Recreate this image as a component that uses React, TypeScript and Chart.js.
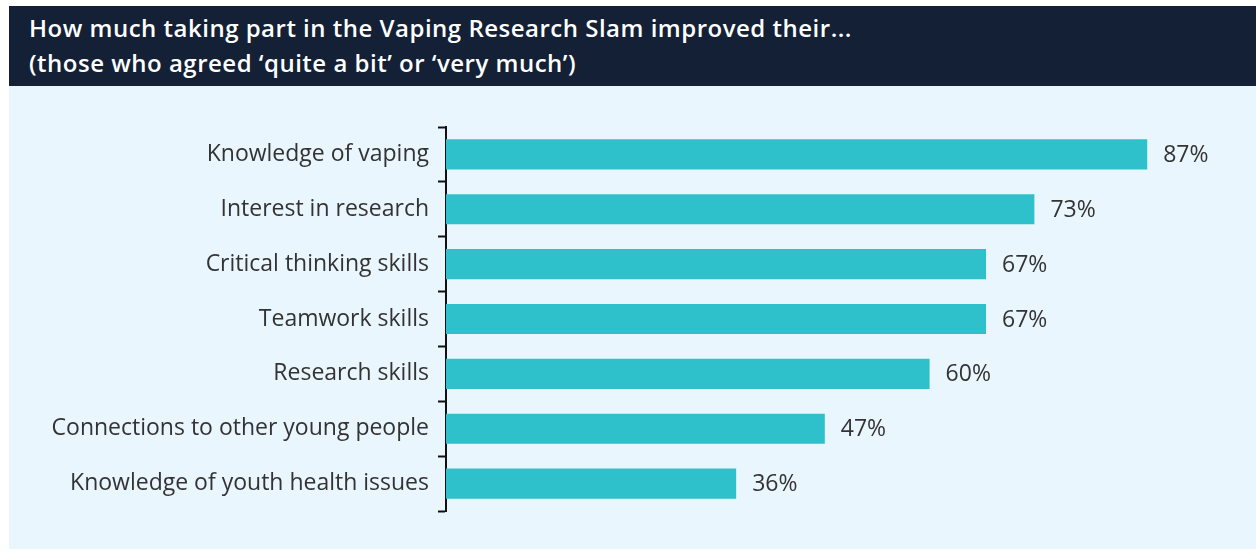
import React, { useEffect, useRef } from "react";
import { Chart, registerables } from "chart.js";

Chart.register(...registerables);

const titleLines = [
  "How much taking part in the Vaping Research Slam improved their...",
  "(those who agreed \u2018quite a bit\u2019 or \u2018very much\u2019)",
];
const categories = [
  "Knowledge of vaping",
  "Interest in research",
  "Critical thinking skills",
  "Teamwork skills",
  "Research skills",
  "Connections to other young people",
  "Knowledge of youth health issues",
];
const values = [87, 73, 67, 67, 60, 47, 36];

const FONT = "'Open Sans', 'DejaVu Sans', sans-serif";

const valueLabels = {
  id: "valueLabels",
  afterDatasetsDraw(chart: any) {
    const ctx = chart.ctx;
    const meta = chart.getDatasetMeta(0);
    ctx.save();
    ctx.font = `23px ${FONT}`;
    ctx.fillStyle = "#333333";
    ctx.textAlign = "left";
    ctx.textBaseline = "middle";
    meta.data.forEach((bar: any, i: number) => {
      ctx.fillText(`${values[i]}%`, bar.x + 16, bar.y + 1);
    });
    ctx.restore();
  },
};

export default function App() {
  const ref = useRef<HTMLCanvasElement>(null);
  useEffect(() => {
    if (!ref.current) return;
    const chart = new Chart(ref.current, {
      type: "bar",
      data: {
        labels: categories,
        datasets: [
          {
            data: values,
            backgroundColor: "#2EC0CB",
            borderWidth: 0,
            barPercentage: 0.55,
            categoryPercentage: 1,
          },
        ],
      },
      options: {
        indexAxis: "y",
        animation: false,
        responsive: false,
        maintainAspectRatio: false,
        layout: { padding: { top: 41, bottom: 38, right: 4, left: 0 } },
        plugins: {
          legend: { display: false },
          tooltip: { enabled: false },
        },
        scales: {
          x: {
            min: 0,
            max: 100,
            display: false,
          },
          y: {
            afterFit: (s: any) => {
              s.width = 437;
            },
            border: { display: true, color: "#111111", width: 2 },
            grid: {
              offset: true,
              drawOnChartArea: false,
              drawTicks: true,
              tickLength: 8,
              tickWidth: 2,
              tickColor: "#111111",
            } as any,
            ticks: {
              padding: 9,
              color: "#333333",
              font: { family: FONT, size: 23 },
            },
          },
        },
      },
      plugins: [valueLabels],
    });
    return () => chart.destroy();
  }, []);

  return (
    <div style={{ position: "absolute", left: 9, top: 6, width: 1247, height: 543 }}>
      <div
        style={{
          height: 80,
          background: "#132035",
          color: "#ffffff",
          fontFamily: FONT,
          fontWeight: 600,
          fontSize: 24,
          letterSpacing: "0.5px",
          lineHeight: "35px",
          padding: "4px 0 0 20px",
          boxSizing: "border-box",
        }}
      >
        {titleLines.map((t) => (
          <div key={t} style={{ whiteSpace: "nowrap" }}>{t}</div>
        ))}
      </div>
      <div style={{ background: "#EAF6FD", height: 463, position: "relative" }}>
        <canvas ref={ref} width={1247} height={463} style={{ display: "block" }} />
      </div>
    </div>
  );
}
